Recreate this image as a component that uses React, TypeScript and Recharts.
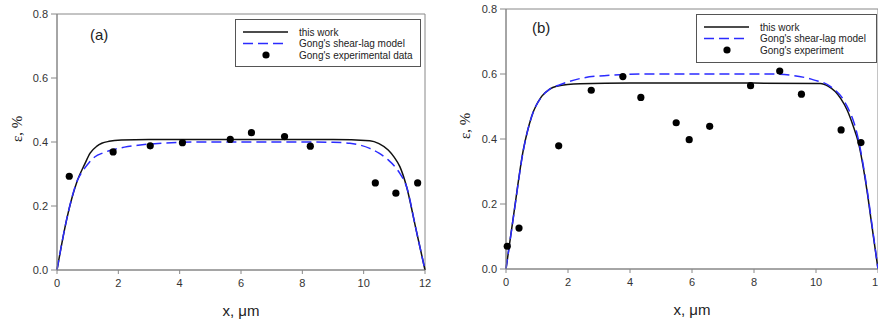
import React from "react";
import {
  ComposedChart,
  Line,
  Scatter,
  XAxis,
  YAxis,
  ReferenceArea,
} from "recharts";

// shared axes
const xTicks = [0, 2, 4, 6, 8, 10, 12];
const yTicks = [0, 0.2, 0.4, 0.6, 0.8];

// panel (a)
const workAx = [0, 0.31, 0.67, 0.9, 1.08, 1.3, 1.46, 1.7, 2.1, 3, 6, 9, 10.2, 10.5, 10.8, 11.0, 11.18, 11.4, 11.7, 12];
const workAy = [0, 0.156, 0.281, 0.33, 0.365, 0.387, 0.396, 0.402, 0.406, 0.408, 0.408, 0.408, 0.404, 0.395, 0.375, 0.352, 0.323, 0.26, 0.13, 0];
const shearAx = [0, 0.31, 0.67, 0.86, 1.05, 1.24, 1.5, 1.78, 2.2, 2.65, 3.4, 4.5, 8, 9, 9.55, 10.2, 10.5, 10.8, 11.0, 11.18, 11.4, 11.7, 12];
const shearAy = [0, 0.156, 0.281, 0.3125, 0.336, 0.354, 0.366, 0.375, 0.384, 0.39, 0.396, 0.4, 0.4, 0.399, 0.396, 0.38, 0.365, 0.344, 0.325, 0.302, 0.26, 0.13, 0];
const expAx = [0.4, 1.83, 3.04, 4.09, 5.65, 6.34, 7.42, 8.26, 10.38, 11.05, 11.76];
const expAy = [0.293, 0.369, 0.388, 0.398, 0.408, 0.429, 0.417, 0.387, 0.272, 0.24, 0.272];

// panel (b)
const workBx = [0, 0.24, 0.56, 0.83, 1.15, 1.4, 1.63, 2.39, 4, 8, 10.14, 10.4, 10.62, 10.8, 11.0, 11.2, 11.37, 11.64, 11.8, 12];
const workBy = [0, 0.162, 0.367, 0.47, 0.531, 0.553, 0.562, 0.57, 0.572, 0.572, 0.571, 0.562, 0.546, 0.524, 0.49, 0.44, 0.388, 0.244, 0.135, 0];
const shearBx = [0, 0.24, 0.56, 0.83, 1.15, 1.4, 1.74, 2.49, 3.35, 4.5, 8.5, 9.3, 9.92, 10.46, 10.95, 11.32, 11.64, 11.8, 12];
const shearBy = [0, 0.16, 0.365, 0.47, 0.53, 0.553, 0.567, 0.588, 0.596, 0.6, 0.6, 0.595, 0.582, 0.562, 0.51, 0.418, 0.25, 0.14, 0];
const expBx = [0.04, 0.42, 1.7, 2.75, 3.77, 4.35, 5.49, 5.91, 6.57, 7.89, 8.83, 9.53, 10.81, 11.45];
const expBy = [0.07, 0.126, 0.379, 0.55, 0.592, 0.528, 0.45, 0.398, 0.439, 0.564, 0.609, 0.538, 0.428, 0.389];

const zip = (xs: number[], ys: number[]) => xs.map((x, i) => ({ x, y: ys[i] }));

const FONT = "Arial, 'Liberation Sans', sans-serif";
const BLUE = "#2b2bff";

const Dot = (props: any) => <circle cx={props.cx} cy={props.cy} r={3.6} fill="#000" />;

function LegendBox({ labels, pos }: { labels: string[]; pos: { left: number; top: number; width: number; height: number } }) {
  return (
    <div
      style={{
        position: "absolute",
        ...pos,
        border: "1px solid #555",
        background: "#fff",
        boxSizing: "border-box",
      }}
    >
      <svg width={pos.width - 2} height={pos.height - 2} style={{ display: "block" }}>
        <line x1={7} x2={52} y1={12} y2={12} stroke="#111" strokeWidth={1.5} />
        <line x1={7} x2={52} y1={23.5} y2={23.5} stroke={BLUE} strokeWidth={1.5} strokeDasharray="10 5" />
        <circle cx={30} cy={35} r={3.6} fill="#000" />
        {labels.map((t, i) => (
          <text key={t} x={63} y={12 + i * 11.5} dy="0.35em" fontSize={10} fontFamily={FONT} fill="#222">
            {t}
          </text>
        ))}
      </svg>
    </div>
  );
}

function Panel({
  work,
  shear,
  exp,
  width,
  margin,
  yLabelOffset,
}: {
  work: { x: number; y: number }[];
  shear: { x: number; y: number }[];
  exp: { x: number; y: number }[];
  width: number;
  margin: { top: number; right: number; bottom: number; left: number };
  yLabelOffset: number;
}) {
  return (
    <ComposedChart width={width} height={322} margin={margin}>
      <XAxis
        dataKey="x"
        type="number"
        domain={[0, 12]}
        ticks={xTicks}
        height={46}
        tickSize={4}
        tickMargin={5}
        stroke="#888"
        tick={{ fontSize: 11, fill: "#333", fontFamily: FONT }}
        label={{ value: "x, μm", position: "insideBottom", offset: 0, fontSize: 15, fill: "#222", fontFamily: FONT }}
      />
      <YAxis
        dataKey="y"
        type="number"
        domain={[0, 0.8]}
        ticks={yTicks}
        width={45}
        tickSize={6}
        tickMargin={3}
        stroke="#888"
        tickFormatter={(v: number) => v.toFixed(1)}
        tick={{ fontSize: 11, fill: "#333", fontFamily: FONT }}
        label={{
          value: "ε, %",
          angle: -90,
          position: "insideLeft",
          offset: yLabelOffset,
          fontSize: 15,
          fill: "#222",
          fontFamily: "'Liberation Serif', 'Times New Roman', serif",
        }}
      />
      <ReferenceArea x1={0} x2={12} y1={0} y2={0.8} fill="none" stroke="#888" strokeWidth={1} />
      <Line data={work} dataKey="y" type="monotone" stroke="#111" strokeWidth={1.5} dot={false} isAnimationActive={false} />
      <Line
        data={shear}
        dataKey="y"
        type="monotone"
        stroke={BLUE}
        strokeWidth={1.5}
        strokeDasharray="10 5"
        dot={false}
        isAnimationActive={false}
      />
      <Scatter data={exp} dataKey="y" shape={Dot} isAnimationActive={false} />
    </ComposedChart>
  );
}

export default function App() {
  return (
    <div style={{ position: "absolute", left: 0, top: 0, width: 878, height: 322, background: "#fff", overflow: "hidden" }}>
      <div style={{ position: "absolute", left: 0, top: 0, width: 440, height: 322 }}>
        <Panel
          work={zip(workAx, workAy)}
          shear={zip(shearAx, shearAy)}
          exp={zip(expAx, expAy)}
          width={440}
          margin={{ top: 14, right: 15, bottom: 6, left: 12 }}
          yLabelOffset={5}
        />
        <LegendBox
          pos={{ left: 235, top: 19, width: 186, height: 48 }}
          labels={["this work", "Gong's shear-lag model", "Gong's experimental data"]}
        />
        <div style={{ position: "absolute", left: 90, top: 26, fontSize: 15, fontFamily: FONT, color: "#222" }}>(a)</div>
      </div>
      <div style={{ position: "absolute", left: 440, top: 0, width: 438, height: 322, overflow: "hidden" }}>
        <Panel
          work={zip(workBx, workBy)}
          shear={zip(shearBx, shearBy)}
          exp={zip(expBx, expBy)}
          width={450}
          margin={{ top: 9, right: 12, bottom: 7, left: 21 }}
          yLabelOffset={4}
        />
        <LegendBox
          pos={{ left: 256, top: 14, width: 181, height: 49 }}
          labels={["this work", "Gong's shear-lag model", "Gong's experiment"]}
        />
        <div style={{ position: "absolute", left: 92, top: 19, fontSize: 15, fontFamily: FONT, color: "#222" }}>(b)</div>
      </div>
    </div>
  );
}
